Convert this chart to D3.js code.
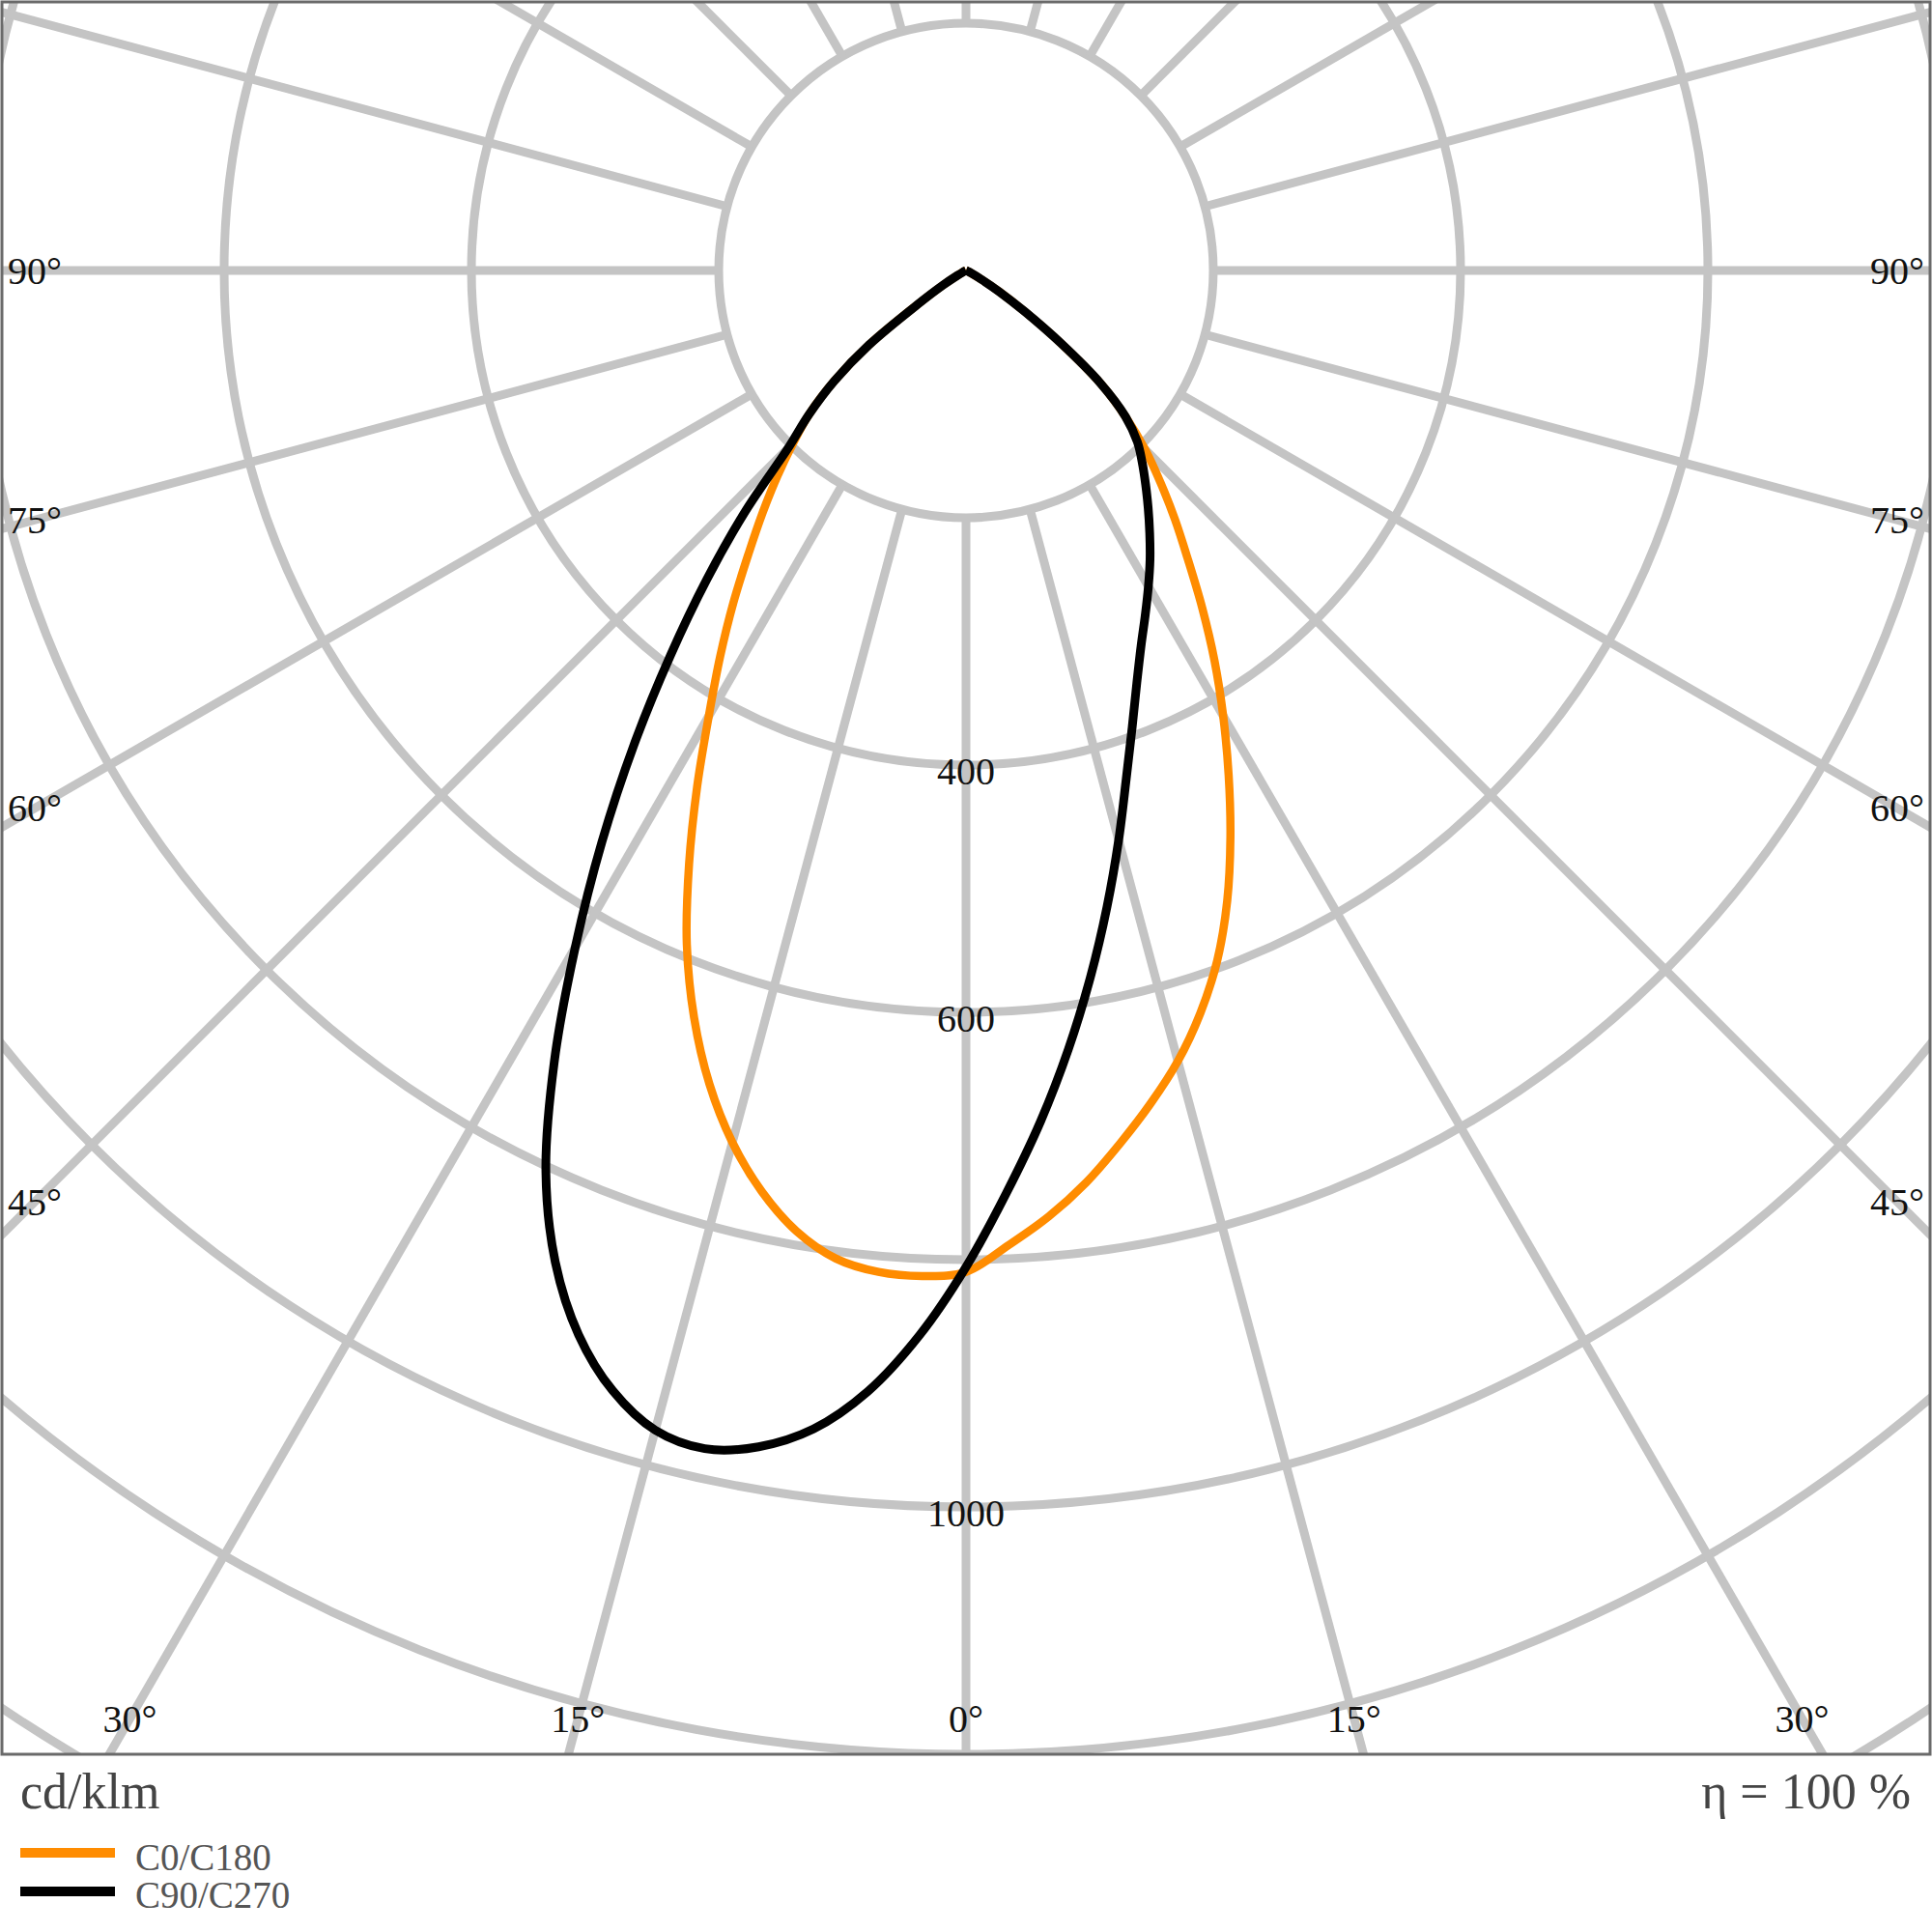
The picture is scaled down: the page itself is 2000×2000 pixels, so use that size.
<!DOCTYPE html>
<html>
<head>
<meta charset="utf-8">
<script src="https://cdn.jsdelivr.net/npm/d3@7"></script>
<style>
  html, body { margin: 0; padding: 0; background: #fff; }
  svg { display: block; }
</style>
</head>
<body>
<svg id="chart" width="2000" height="2000"></svg>
<script>
// ---- DATA (cd/klm) ----
const gammaAngles = [0,2.5,5,7.5,10,12.5,15,17.5,20,22.5,25,27.5,30,32.5,35,37.5,40,42.5,45,47.5,50,52.5,55,57.5,60,62.5,65,67.5,70,72.5,75,77.5,80,82.5,85,87.5,90];
// C0/C180 plane (orange): right half C0, left half C180
const c0   = [807,789,768,744,717,690,662,630,594,552,506,460,416,374,333,295,263,233,205,175,142,97,58,32,14,5,2,1,0,0,0,0,0,0,0,0,0];
const c180 = [810,814,813,806,789,763,730,690,643,590,530,471,416,370,328,289,256,226,198,172,139,99,47,22,8,3,1,0,0,0,0,0,0,0,0,0,0];
// C90/C270 plane (black): right half C90, left half C270
const c90  = [807,747,691,635,580,527,477,431,393,361,335,314,295,277,259,242,226,211,196,175,142,97,58,32,14,5,2,1,0,0,0,0,0,0,0,0,0];
const c270 = [806,862,910,945,966,976,971,950,916,868,804,721,632,548,468,393,326,264,204,172,139,99,47,22,8,3,1,0,0,0,0,0,0,0,0,0,0];

const ringValues = [200,400,600,800,1000,1200,1400,1600];
const ringLabels = [400,600,1000];
const spokeAngles = d3.range(0, 360, 15);
const angleLabels = [90,75,60,45,30,15,0];
const seriesNames = ["C0/C180","C90/C270"];
const seriesColors = ["#ff8c00","#000000"];
const unitText = "cd/klm";
const effText = "η = 100 %";

// ---- LAYOUT ----
const CX = 1000, CY = 280;
const frame = {x: 2, y: 2, w: 1996, h: 1814};
const r = d3.scaleLinear().domain([0, 1000]).range([0, 1280]);
const gridColor = "#c4c4c4";
const serif = "'Liberation Serif','Times New Roman',serif";

const svg = d3.select("#chart");
svg.append("rect").attr("width",2000).attr("height",2000).attr("fill","#fff");

svg.append("defs").append("clipPath").attr("id","clip")
  .append("rect").attr("x",frame.x).attr("y",frame.y).attr("width",frame.w).attr("height",frame.h);

const plot = svg.append("g").attr("clip-path","url(#clip)");
const g = plot.append("g").attr("transform",`translate(${CX},${CY})`);

// rings
g.selectAll("circle.ring").data(ringValues).join("circle")
  .attr("class","ring").attr("r", d => r(d))
  .attr("fill","none").attr("stroke",gridColor).attr("stroke-width",9);

// spokes (start at the 200 ring)
g.selectAll("line.spoke").data(spokeAngles).join("line")
  .attr("class","spoke")
  .attr("x1", d => r(200) * Math.sin(d*Math.PI/180))
  .attr("y1", d => r(200) * Math.cos(d*Math.PI/180))
  .attr("x2", d => r(1800) * Math.sin(d*Math.PI/180))
  .attr("y2", d => r(1800) * Math.cos(d*Math.PI/180))
  .attr("stroke",gridColor).attr("stroke-width",9);

// curves
function planePoints(right, left) {
  const pts = [];
  for (let i = gammaAngles.length - 1; i >= 0; i--) pts.push([Math.PI + gammaAngles[i]*Math.PI/180, r(left[i])]);
  for (let i = 1; i < gammaAngles.length; i++) pts.push([Math.PI - gammaAngles[i]*Math.PI/180, r(right[i])]);
  return pts;
}
const radial = d3.lineRadial().angle(d => d[0]).radius(d => d[1]).curve(d3.curveCatmullRom.alpha(0.5));
const planes = [planePoints(c0, c180), planePoints(c90, c270)];
g.selectAll("path.curve").data(planes).join("path")
  .attr("class","curve")
  .attr("d", radial)
  .attr("fill","none")
  .attr("stroke",(d,i) => seriesColors[i])
  .attr("stroke-width",(d,i) => i === 0 ? 8.5 : 9)
  .attr("stroke-linejoin","round");

// ring value labels
g.selectAll("text.rl").data(ringLabels).join("text")
  .attr("class","rl").attr("x",0).attr("y", d => r(d) + 6)
  .attr("text-anchor","middle").attr("dominant-baseline","central")
  .attr("font-family",serif).attr("font-size",40).attr("fill","#111")
  .text(d => d);

// angle labels
const labelData = [];
angleLabels.forEach(a => {
  const sides = a === 0 ? [0] : [-1, 1];
  sides.forEach(s => {
    let x, y;
    const rad = a*Math.PI/180;
    const off = 964, bottomY = 1779;
    if (a === 90) { x = CX + s*off; y = CY; }
    else if (a === 0) { x = CX; y = bottomY; }
    else {
      const dy = off / Math.tan(rad);
      if (CY + dy <= bottomY) { x = CX + s*off; y = CY + dy; }
      else { x = CX + s*(bottomY - CY)*Math.tan(rad); y = bottomY; }
    }
    labelData.push({a, x, y});
  });
});
svg.selectAll("text.al").data(labelData).join("text")
  .attr("class","al").attr("x", d => d.x).attr("y", d => d.y)
  .attr("text-anchor","middle").attr("dominant-baseline","central")
  .attr("font-family",serif).attr("font-size",40).attr("fill","#111")
  .text(d => d.a + "°");

// frame
svg.append("rect").attr("x",frame.x).attr("y",frame.y).attr("width",frame.w).attr("height",frame.h)
  .attr("fill","none").attr("stroke","#6a6a6a").attr("stroke-width",3);

// footer
svg.append("text").attr("x",21).attr("y",1872)
  .attr("font-family",serif).attr("font-size",52).attr("fill","#444").text(unitText);
svg.append("text").attr("x",1978).attr("y",1872).attr("text-anchor","end")
  .attr("font-family",serif).attr("font-size",52).attr("fill","#444").text(effText);

// legend
const lg = svg.append("g");
const legY = [1918, 1958];
const legTextY = [1936, 1975];
seriesNames.forEach((name, i) => {
  lg.append("line").attr("x1",21).attr("x2",119).attr("y1",legY[i]).attr("y2",legY[i])
    .attr("stroke",seriesColors[i]).attr("stroke-width",10);
  lg.append("text").attr("x",140).attr("y",legTextY[i])
    .attr("font-family",serif).attr("font-size",39).attr("fill","#555").text(name);
});
</script>
</body>
</html>
